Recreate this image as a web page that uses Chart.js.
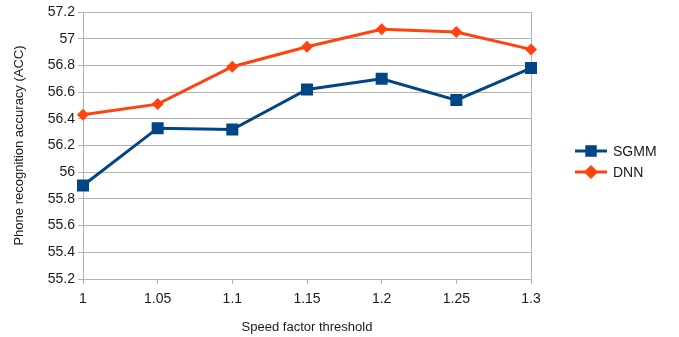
<!DOCTYPE html>
<html>
<head>
<meta charset="utf-8">
<script src="https://cdn.jsdelivr.net/npm/chart.js@4/dist/chart.umd.min.js"></script>
<style>
  html, body { margin: 0; padding: 0; background: #fff; }
  #wrap { width: 679px; height: 337px; position: relative; }
</style>
</head>
<body>
<div id="wrap"><canvas id="accChart" width="679" height="337"></canvas></div>
<script>
const thresholds = ['1', '1.05', '1.1', '1.15', '1.2', '1.25', '1.3'];
const sgmmAcc = [55.90, 56.33, 56.32, 56.62, 56.70, 56.54, 56.78];
const dnnAcc = [56.43, 56.51, 56.79, 56.94, 57.07, 57.05, 56.92];

const FONT = 'Liberation Sans, Arial, sans-serif';
const GRID = '#b3b3b3';

// legend with line + marker, drawn beside the plot
const sideLegend = {
  id: 'sideLegend',
  afterDraw(chart) {
    const ctx = chart.ctx;
    const x0 = 575, x1 = 607;
    let y = 151;
    chart.data.datasets.forEach(ds => {
      ctx.save();
      ctx.strokeStyle = ds.borderColor;
      ctx.lineWidth = 3;
      ctx.beginPath();
      ctx.moveTo(x0, y);
      ctx.lineTo(x1, y);
      ctx.stroke();
      Chart.helpers.drawPoint(ctx, {
        pointStyle: ds.pointStyle,
        radius: ds.pointStyle === 'rect' ? 6 : 5,
        borderWidth: 1
      }, (x0 + x1) / 2, y);
      ctx.fillStyle = ds.borderColor;
      ctx.fill();
      ctx.fillStyle = '#1a1a1a';
      ctx.font = '14px ' + FONT;
      ctx.textBaseline = 'middle';
      ctx.fillText(ds.label, 613, y + 1);
      ctx.restore();
      y += 21;
    });
  }
};

new Chart(document.getElementById('accChart'), {
  type: 'line',
  data: {
    labels: thresholds,
    datasets: [{
      label: 'SGMM',
      data: sgmmAcc,
      borderColor: '#004586',
      backgroundColor: '#004586',
      borderWidth: 3,
      pointStyle: 'rect',
      pointRadius: 8.5,
      pointBorderWidth: 0,
      tension: 0
    }, {
      label: 'DNN',
      data: dnnAcc,
      borderColor: '#ff420e',
      backgroundColor: '#ff420e',
      borderWidth: 3,
      pointStyle: 'rectRot',
      pointRadius: 6,
      pointBorderWidth: 0,
      tension: 0
    }]
  },
  options: {
    responsive: false,
    animation: false,
    layout: { padding: { left: 0, top: 12, right: 148, bottom: 0 } },
    plugins: {
      legend: { display: false },
      tooltip: { enabled: false }
    },
    scales: {
      x: {
        offset: false,
        afterFit: s => { s.height = 58; },
        grid: {
          color: c => (c.index === 0 || c.index === thresholds.length - 1) ? GRID : 'rgba(0,0,0,0)',
          tickColor: GRID,
          tickLength: 5
        },
        border: { color: GRID },
        ticks: { color: '#1a1a1a', font: { family: FONT, size: 14 }, padding: 7, maxRotation: 0 },
        title: {
          display: true,
          text: 'Speed factor threshold',
          color: '#1a1a1a',
          font: { family: FONT, size: 13 },
          padding: { top: 6, bottom: 2 }
        }
      },
      y: {
        min: 55.2,
        max: 57.2,
        afterFit: s => { s.width = 83; },
        ticks: {
          stepSize: 0.2,
          color: '#1a1a1a',
          font: { family: FONT, size: 14 },
          padding: 3,
          callback: v => parseFloat(v.toFixed(1)).toString()
        },
        grid: { color: GRID, tickColor: GRID, tickLength: 5 },
        border: { color: GRID },
        title: {
          display: true,
          text: 'Phone recognition accuracy (ACC)',
          color: '#1a1a1a',
          font: { family: FONT, size: 13 },
          padding: { top: 12, bottom: 4 }
        }
      }
    }
  },
  plugins: [sideLegend]
});
</script>
</body>
</html>
